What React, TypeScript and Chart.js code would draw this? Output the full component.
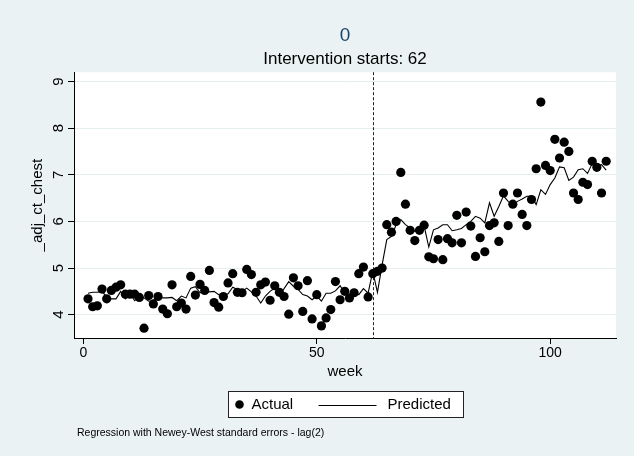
import React, { useEffect, useRef } from 'react';
import { Chart, registerables } from 'chart.js';

Chart.register(...registerables);

const WEEKS = [
  1, 2, 3, 4, 5, 6, 7, 8, 9, 10, 11, 12, 13, 14, 15, 16, 17, 18, 19, 20,
  21, 22, 23, 24, 25, 26, 27, 28, 29, 30, 31, 32, 33, 34, 35, 36, 37, 38, 39, 40,
  41, 42, 43, 44, 45, 46, 47, 48, 49, 50, 51, 52, 53, 54, 55, 56, 57, 58, 59, 60,
  61, 62, 63, 64, 65, 66, 67, 68, 69, 70, 71, 72, 73, 74, 75, 76, 77, 78, 79, 80,
  81, 82, 83, 84, 85, 86, 87, 88, 89, 90, 91, 92, 93, 94, 95, 96, 97, 98, 99, 100,
  101, 102, 103, 104, 105, 106, 107, 108, 109, 110, 111, 112,
];

const ACTUAL = [
  4.34, 4.17, 4.19, 4.55, 4.34, 4.52, 4.59, 4.64, 4.44, 4.44, 4.44, 4.37, 3.71, 4.41, 4.23, 4.39, 4.12, 4.02, 4.64, 4.17,
  4.25, 4.12, 4.82, 4.42, 4.65, 4.52, 4.95, 4.26, 4.16, 4.39, 4.68, 4.88, 4.48, 4.47, 4.97, 4.86, 4.48, 4.64, 4.70, 4.31,
  4.62, 4.48, 4.39, 4.01, 4.79, 4.62, 4.07, 4.73, 3.91, 4.43, 3.76, 3.93, 4.11, 4.71, 4.32, 4.50, 4.36, 4.47, 4.88, 5.02,
  4.38, 4.88, 4.93, 5.00, 5.93, 5.77, 6.00, 7.05, 6.37, 5.81, 5.59, 5.81, 5.92, 5.24, 5.20, 5.61, 5.18, 5.63, 5.54, 6.13,
  5.54, 6.20, 5.90, 5.25, 5.65, 5.35, 5.91, 5.97, 5.57, 6.61, 5.91, 6.37, 6.61, 6.15, 5.91, 6.47, 7.13, 8.56, 7.20, 7.09,
  7.76, 7.36, 7.70, 7.50, 6.61, 6.47, 6.84, 6.79, 7.29, 7.16, 6.61, 7.29,
];

const PREDICTED = [
  4.46, 4.48, 4.48, 4.50, 4.38, 4.34, 4.34, 4.50, 4.34, 4.45, 4.30, 4.40, 4.36, 4.29, 4.30, 4.40, 4.36, 4.36, 4.37, 4.30,
  4.40, 4.36, 4.57, 4.60, 4.47, 4.50, 4.49, 4.50, 4.43, 4.40, 4.45, 4.59, 4.54, 4.50, 4.57, 4.49, 4.40, 4.25, 4.40, 4.50,
  4.57, 4.43, 4.56, 4.71, 4.61, 4.54, 4.43, 4.40, 4.32, 4.40, 4.29, 4.46, 4.46, 4.51, 4.62, 4.46, 4.43, 4.51, 4.43, 4.56,
  4.46, 4.93, 4.48, 5.07, 5.61, 5.68, 5.93, 6.04, 5.93, 5.86, 5.79, 5.86, 5.90, 5.45, 5.82, 5.86, 5.93, 5.93, 5.80, 5.82,
  5.85, 5.93, 6.00, 6.11, 6.07, 5.97, 6.40, 6.11, 6.32, 6.55, 6.43, 6.36, 6.43, 6.48, 6.54, 6.54, 6.36, 6.68, 6.58, 6.79,
  6.93, 7.17, 7.15, 6.88, 6.95, 7.11, 7.13, 7.03, 7.24, 7.20, 7.22, 7.10,
];

const X_TICKS = [0, 50, 100];
const Y_TICKS = [4, 5, 6, 7, 8, 9];
const INTERVENTION_WEEK = 62;

const TITLE = '0';
const SUBTITLE = 'Intervention starts: 62';
const X_TITLE = 'week';
const Y_TITLE = '_adj_ct_chest';
const SERIES_NAMES = ['Actual', 'Predicted'];
const NOTE = 'Regression with Newey-West standard errors - lag(2)';

const FONT = '"Liberation Sans", Arial, Helvetica, sans-serif';
const BG = '#EAF2F3';

const extrasPlugin = {
  id: 'stataExtras',
  beforeDraw(chart: any) {
    const { ctx, chartArea: a } = chart;
    ctx.save();
    ctx.fillStyle = BG;
    ctx.fillRect(0, 0, chart.width, chart.height);
    ctx.fillStyle = '#ffffff';
    ctx.fillRect(a.left, a.top, a.right - a.left, a.bottom - a.top);
    ctx.restore();
  },
  beforeDatasetsDraw(chart: any) {
    const { ctx, chartArea: a } = chart;
    const x = Math.round(chart.scales.x.getPixelForValue(INTERVENTION_WEEK)) + 0.5;
    ctx.save();
    ctx.strokeStyle = '#222222';
    ctx.lineWidth = 1;
    ctx.setLineDash([3, 2]);
    ctx.beginPath();
    ctx.moveTo(x, a.top);
    ctx.lineTo(x, a.bottom);
    ctx.stroke();
    ctx.restore();
  },
  afterDraw(chart: any) {
    const { ctx, chartArea: a } = chart;
    const cx = (a.left + a.right) / 2;
    const boxW = 235;
    const left = Math.round(cx - boxW / 2) + 0.5;
    const top = 391.5;
    const h = 26;
    const midY = top + h / 2;
    ctx.save();
    ctx.fillStyle = '#ffffff';
    ctx.fillRect(left, top, boxW, h);
    ctx.strokeStyle = '#222222';
    ctx.lineWidth = 1;
    ctx.strokeRect(left, top, boxW, h);
    // marker
    ctx.fillStyle = '#000000';
    ctx.beginPath();
    ctx.arc(left + 11, midY, 4.3, 0, Math.PI * 2);
    ctx.fill();
    ctx.font = '15px ' + FONT;
    ctx.textBaseline = 'middle';
    ctx.textAlign = 'left';
    ctx.fillText(SERIES_NAMES[0], left + 23, midY + 0.5);
    // line
    ctx.strokeStyle = '#000000';
    ctx.beginPath();
    ctx.moveTo(left + 90, Math.round(midY) + 0.5);
    ctx.lineTo(left + 148, Math.round(midY) + 0.5);
    ctx.stroke();
    ctx.fillText(SERIES_NAMES[1], left + 159, midY + 0.5);
    // note
    ctx.font = '10.5px ' + FONT;
    ctx.fillText(NOTE, 77, 433);
    ctx.restore();
  },
};

export default function App() {
  const canvasRef = useRef<HTMLCanvasElement | null>(null);

  useEffect(() => {
    if (!canvasRef.current) return;
    const chart = new Chart(canvasRef.current, {
      type: 'scatter',
      data: {
        datasets: [
          {
            label: SERIES_NAMES[0],
            data: WEEKS.map((w, i) => ({ x: w, y: ACTUAL[i] })),
            pointRadius: 4.6,
            pointHoverRadius: 4.6,
            pointBackgroundColor: '#000000',
            pointBorderWidth: 0,
            showLine: false,
          },
          {
            label: SERIES_NAMES[1],
            type: 'line',
            data: WEEKS.map((w, i) => ({ x: w, y: PREDICTED[i] })),
            borderColor: '#000000',
            borderWidth: 1.1,
            pointRadius: 0,
            tension: 0,
            fill: false,
          } as any,
        ],
      },
      options: {
        responsive: false,
        animation: false,
        layout: { padding: { left: 0, right: 18, top: 0, bottom: 68 } },
        plugins: {
          legend: { display: false },
          tooltip: { enabled: false },
          title: {
            display: true,
            fullSize: false,
            text: TITLE,
            color: '#1A476F',
            font: { family: FONT, size: 19, weight: 'normal' },
            padding: { top: 24, bottom: 2 },
          },
          subtitle: {
            display: true,
            fullSize: false,
            text: SUBTITLE,
            color: '#000000',
            font: { family: FONT, size: 17, weight: 'normal' },
            padding: { top: 0, bottom: 3 },
          },
        },
        scales: {
          x: {
            type: 'linear',
            min: -2,
            max: 114.1,
            afterBuildTicks: (s: any) => {
              s.ticks = X_TICKS.map((v) => ({ value: v }));
            },
            afterFit: (s: any) => {
              s.height = 50;
            },
            grid: { drawOnChartArea: false, drawTicks: true, tickLength: 6, tickColor: '#000000', tickWidth: 1 },
            border: { display: true, color: '#000000', width: 1 },
            ticks: { color: '#000000', font: { family: FONT, size: 14 }, padding: 1, maxRotation: 0 },
            title: {
              display: true,
              text: X_TITLE,
              color: '#000000',
              font: { family: FONT, size: 15 },
              padding: { top: 0, bottom: 7 },
            },
          },
          y: {
            type: 'linear',
            min: 3.5,
            max: 9.2,
            afterBuildTicks: (s: any) => {
              s.ticks = Y_TICKS.map((v) => ({ value: v }));
            },
            afterFit: (s: any) => {
              s.width = 74;
            },
            grid: { color: '#E6EEF0', lineWidth: 1, drawTicks: true, tickLength: 6, tickColor: '#000000' },
            border: { display: true, color: '#000000', width: 1 },
            ticks: {
              color: '#000000',
              font: { family: FONT, size: 15 },
              minRotation: 90,
              maxRotation: 90,
              padding: 5,
              crossAlign: 'center',
            },
            title: {
              display: true,
              text: Y_TITLE,
              color: '#000000',
              font: { family: FONT, size: 15 },
              padding: { top: 29, bottom: 0 },
            },
          },
        },
      } as any,
      plugins: [extrasPlugin],
    });
    return () => chart.destroy();
  }, []);

  return (
    <div style={{ position: 'absolute', left: 0, top: 0, width: 634, height: 456, background: BG }}>
      <canvas ref={canvasRef} width={634} height={456} style={{ display: 'block' }} />
    </div>
  );
}
